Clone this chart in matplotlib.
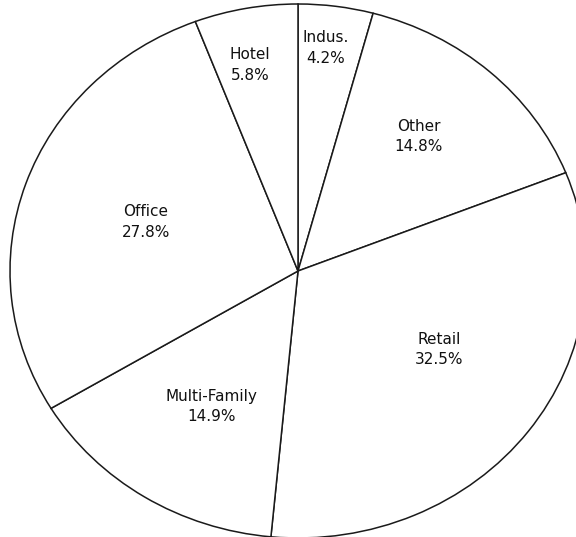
import numpy as np
import matplotlib.pyplot as plt

# property type split, clockwise from 12 o'clock
labels = ["Indus.", "Other", "Retail", "Multi-Family", "Office", "Hotel"]
shares = [4.2, 14.8, 32.5, 14.9, 27.8, 5.8]

# where each label sits inside its wedge (fraction of radius, angle nudge in degrees)
label_r = [0.84, 0.655, 0.57, 0.59, 0.56, 0.79]
label_nudge = [1.0, 1.9, 5.9, 1.5, 0.0, 1.8]

fig = plt.figure(figsize=(5.76, 5.37), dpi=100)
ax = fig.add_axes([0, 0, 1, 1])

wedges, _ = ax.pie(shares, startangle=90, counterclock=False,
                   colors=["white"] * len(shares),
                   wedgeprops=dict(edgecolor="#1a1a1a", linewidth=1.1))

for w, lab, val, r, d in zip(wedges, labels, shares, label_r, label_nudge):
    ang = np.deg2rad((w.theta1 + w.theta2) / 2 + d)
    ax.text(r * np.cos(ang), r * np.sin(ang), f"{lab}\n{val:.1f}%",
            ha="center", va="center", fontsize=11, color="#111111",
            linespacing=1.45, family="DejaVu Sans")

# the chart is stretched a little wider than tall
ax.set_aspect("auto")
ax.set_xlim(-298 / 288, 278 / 288)
ax.set_ylim(-266 / 267, 271 / 267)
ax.axis("off")

fig.savefig("out.png", dpi=100, facecolor="white")
